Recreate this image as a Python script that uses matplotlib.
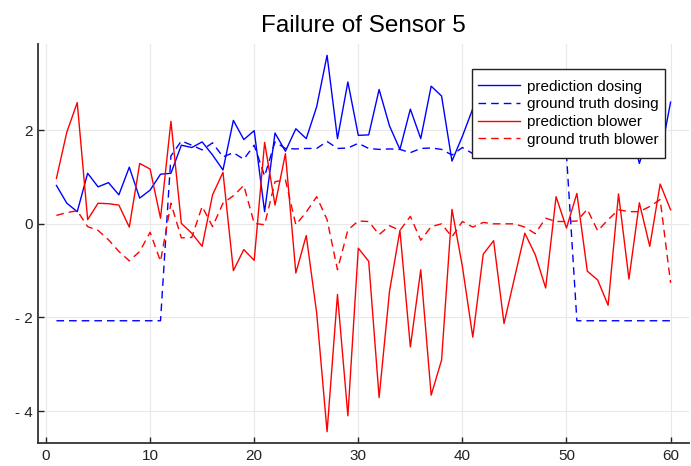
import matplotlib
matplotlib.use("Agg")
import matplotlib.pyplot as plt
from matplotlib.path import Path
import numpy as np

plt.rcParams['font.family'] = ['Liberation Sans', 'DejaVu Sans']

x = list(range(1, 61))

pred_dosing = [0.82, 0.44, 0.26, 1.08, 0.79, 0.88, 0.62, 1.21, 0.55, 0.72,
               1.06, 1.08, 1.68, 1.63, 1.75, 1.47, 1.15, 2.21, 1.80, 1.99,
               0.26, 1.94, 1.55, 2.03, 1.82, 2.50, 3.60, 1.82, 3.03, 1.89,
               1.90, 2.87, 2.09, 1.59, 2.45, 1.82, 2.94, 2.73, 1.34, 1.87,
               2.46, 2.20, 1.90, 2.40, 1.80, 2.60, 2.00, 2.30, 1.42, 1.45,
               2.10, 1.90, 2.60, 1.80, 1.42, 2.20, 1.29, 2.00, 1.42, 2.60]

truth_dosing = [-2.07, -2.07, -2.07, -2.07, -2.07, -2.07, -2.07, -2.07, -2.07, -2.07,
                -2.07, 1.45, 1.77, 1.68, 1.58, 1.73, 1.43, 1.52, 1.38, 1.68,
                1.02, 1.75, 1.61, 1.60, 1.61, 1.61, 1.76, 1.61, 1.62, 1.72,
                1.61, 1.59, 1.60, 1.59, 1.52, 1.61, 1.62, 1.59, 1.47, 1.63,
                1.50, 1.55, 1.58, 1.52, 1.60, 1.56, 1.55, 1.60, 1.50, 1.48,
                -2.07, -2.07, -2.07, -2.07, -2.07, -2.07, -2.07, -2.07, -2.07, -2.07]

pred_blower = [0.97, 1.96, 2.59, 0.09, 0.44, 0.43, 0.40, -0.07, 1.29, 1.17,
               0.12, 2.19, 0.01, -0.20, -0.48, 0.62, 1.10, -1.00, -0.55, -0.78,
               1.74, 0.40, 1.50, -1.05, -0.25, -1.90, -4.44, -1.51, -4.10, -0.52,
               -0.80, -3.71, -1.44, -0.14, -2.63, -0.98, -3.66, -2.91, 0.31, -0.91,
               -2.42, -0.65, -0.36, -2.13, -1.16, -0.20, -0.66, -1.37, 0.58, -0.09,
               0.65, -1.01, -1.20, -1.74, 0.64, -1.18, 0.45, -0.48, 0.85, 0.30]

truth_blower = [0.18, 0.24, 0.28, -0.06, -0.14, -0.34, -0.59, -0.79, -0.59, -0.18,
                -0.80, 0.44, -0.30, -0.29, 0.37, -0.06, 0.44, 0.60, 0.82, 0.01,
                -0.02, 0.90, 0.94, -0.02, 0.25, 0.58, 0.09, -0.98, -0.13, 0.06,
                0.05, -0.23, -0.04, -0.14, 0.16, -0.35, -0.06, 0.00, -0.28, 0.05,
                -0.07, 0.03, 0.00, 0.00, 0.00, -0.07, -0.21, 0.12, 0.05, 0.05,
                0.06, 0.31, -0.15, 0.09, 0.30, 0.26, 0.26, 0.37, 0.52, -1.26]

labels = ["prediction dosing", "ground truth dosing", "prediction blower", "ground truth blower"]
xticks = [0, 10, 20, 30, 40, 50, 60]
yticks = [-4, -2, 0, 2]
ytick_labels = ["- 4", "- 2", "0", "2"]
title = "Failure of Sensor 5"

fig = plt.figure(figsize=(6.91, 4.66), dpi=100)
ax = fig.add_axes([38/691, 23/466, (689-38)/691, (443-44)/466])

lw = 1.0
dash = (0, (5.5, 3.6))
ax.plot(x, pred_dosing, color=(0, 0, 1), lw=lw, label=labels[0])
ax.plot(x, truth_dosing, color=(0, 0, 1), lw=lw, linestyle=dash, label=labels[1])
ax.plot(x, pred_blower, color=(1, 0, 0), lw=lw, label=labels[2])
ax.plot(x, truth_blower, color=(1, 0, 0), lw=lw, linestyle=dash, label=labels[3])

allv = np.concatenate([pred_dosing, truth_dosing, pred_blower, truth_blower])
ymin, ymax = allv.min(), allv.max()
yr = ymax - ymin
ax.set_ylim(ymin - 0.03 * yr, ymax + 0.03 * yr)
xr = max(x) - min(x)
ax.set_xlim(min(x) - 0.03 * xr, max(x) + 0.03 * xr)

ax.set_xticks(xticks)
ax.set_xticklabels([str(t) for t in xticks])
ax.set_yticks(yticks)
ax.set_yticklabels(ytick_labels)
ax.tick_params(direction='in', length=4, width=1, colors='#222222', labelsize=11, pad=4)

ax.grid(True, color='#e8e8e8', lw=0.8)
ax.set_axisbelow(True)
for s in ['top', 'right']:
    ax.spines[s].set_visible(False)
for s in ['left', 'bottom']:
    ax.spines[s].set_color('#333333')
    ax.spines[s].set_linewidth(1.3)

ax.set_title(title, fontsize=17.5, pad=9)


def tall_box(x0, y0, width, height, mutation_size):
    p = 0.31 * mutation_size
    verts = [(x0, y0 - p), (x0 + width, y0 - p), (x0 + width, y0 + height + p),
             (x0, y0 + height + p), (x0, y0 - p)]
    return Path(verts, closed=True)


leg = ax.legend(loc='upper right', bbox_to_anchor=(0.9627, 0.9256), borderaxespad=0,
                fontsize=11, handlelength=2.75, handletextpad=0.43,
                labelspacing=0.237, borderpad=0.4, fancybox=False, framealpha=1,
                edgecolor='#222222')
leg.get_frame().set_boxstyle(tall_box)
leg.get_frame().set_linewidth(1.0)

fig.savefig("out.png", dpi=100)
